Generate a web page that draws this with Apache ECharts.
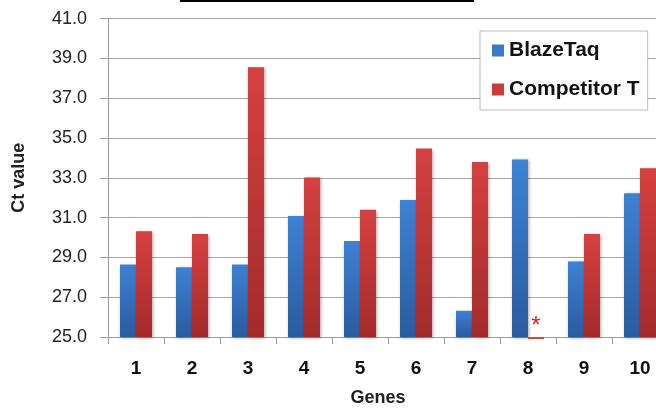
<!DOCTYPE html>
<html>
<head>
<meta charset="utf-8">
<script src="https://cdn.jsdelivr.net/npm/echarts@6/dist/echarts.min.js"></script>
<style>html,body{margin:0;padding:0;background:#fff;overflow:hidden;width:656px;height:412px}#c{width:690px;height:412px}</style>
</head>
<body>
<div id="c"></div>
<script>
var genes = ['1','2','3','4','5','6','7','8','9','10'];
var blazeTaq = [28.64, 28.5, 28.64, 31.08, 29.83, 31.88, 26.32, 33.92, 28.8, 32.22];
var competitorT = [30.32, 30.18, 38.55, 33.02, 31.4, 34.47, 33.8, 24.9, 30.18, 33.48];
var yTicks = {min: 25, max: 41, interval: 2};
var seriesNames = ['BlazeTaq', 'Competitor T'];

var FONT = 'Liberation Sans, Arial, sans-serif';
var BAR_W = 16;
function grad(top, bottom) {
  return new echarts.graphic.LinearGradient(0, 0, 0, 1, [
    {offset: 0, color: top}, {offset: 1, color: bottom}
  ]);
}
var shadow = {shadowBlur: 3, shadowColor: 'rgba(0,0,0,0.35)', shadowOffsetX: 1, shadowOffsetY: 1};

// values below the axis minimum (no signal) drawn as a sliver under the axis with an asterisk
var belowMin = [];
competitorT.forEach(function (v, i) { if (v < yTicks.min) belowMin.push([i, v]); });

var chart = echarts.init(document.getElementById('c'), null, {renderer: 'canvas'});
chart.setOption({
  animation: false,
  textStyle: {fontFamily: FONT},
  grid: {left: 108, top: 18.6, bottom: 70.3, width: 560, containLabel: false},
  legend: {
    orient: 'vertical',
    left: 480, top: 31,
    padding: [9, 8, 10, 12],
    itemGap: 18,
    itemWidth: 12, itemHeight: 12,
    icon: 'rect',
    borderColor: '#bdbdbd', borderWidth: 1,
    backgroundColor: '#fff',
    textStyle: {fontSize: 21, fontWeight: 'bold', color: '#111', lineHeight: 20, fontFamily: FONT},
    data: [
      {name: seriesNames[0], itemStyle: {color: '#3a78c8'}},
      {name: seriesNames[1], itemStyle: {color: '#c83c3c'}}
    ]
  },
  xAxis: {
    type: 'category',
    data: genes,
    name: 'Genes',
    nameLocation: 'middle',
    nameGap: 52,
    nameTextStyle: {fontSize: 18, fontWeight: 'bold', color: '#222', padding: [0, 20, 0, 0]},
    axisLine: {show: true, lineStyle: {color: '#9a9a9a', width: 1}},
    axisTick: {show: true, length: 7, lineStyle: {color: '#9a9a9a'}},
    axisLabel: {margin: 22, fontSize: 19, fontWeight: 'bold', color: '#111'},
    splitLine: {show: false}
  },
  yAxis: {
    type: 'value',
    min: yTicks.min, max: yTicks.max, interval: yTicks.interval,
    name: 'Ct value',
    nameLocation: 'middle',
    nameGap: 80,
    nameRotate: 90,
    nameTextStyle: {fontSize: 18, fontWeight: 'bold', color: '#222'},
    axisLine: {show: true, lineStyle: {color: '#9a9a9a', width: 1}},
    axisTick: {show: true, length: 8, lineStyle: {color: '#9a9a9a'}},
    axisLabel: {margin: 21, fontSize: 18, color: '#222', formatter: function (v) { return v.toFixed(1); }},
    splitLine: {show: true, lineStyle: {color: '#a4a4a4', width: 1}}
  },
  series: [
    {
      name: seriesNames[0], type: 'bar', data: blazeTaq,
      barWidth: BAR_W, barGap: '0%',
      itemStyle: Object.assign({color: grad('#3d82d4', '#2a5b9e')}, shadow)
    },
    {
      name: seriesNames[1], type: 'bar', data: competitorT,
      barWidth: BAR_W, barGap: '0%',
      itemStyle: Object.assign({color: grad('#d6413f', '#a32a2b')}, shadow)
    },
    {
      name: 'belowMin', type: 'custom', data: belowMin, clip: false, z: 5,
      renderItem: function (params, api) {
        var base = api.coord([api.value(0), yTicks.min]);
        var low = api.coord([api.value(0), api.value(1)]);
        var x = base[0];
        return {
          type: 'group',
          children: [
            {type: 'rect', shape: {x: x, y: base[1], width: BAR_W, height: low[1] - base[1]},
             style: {fill: '#e0403a'}},
            {type: 'text', style: {text: '*', x: x + BAR_W / 2, y: base[1] + 1,
              align: 'center', verticalAlign: 'bottom', fill: '#e02020',
              font: '24px ' + FONT}}
          ]
        };
      }
    }
  ],
  graphic: [
    {type: 'line', shape: {x1: 180, y1: 1, x2: 474, y2: 1}, style: {stroke: '#000', lineWidth: 2}}
  ]
});
</script>
</body>
</html>
